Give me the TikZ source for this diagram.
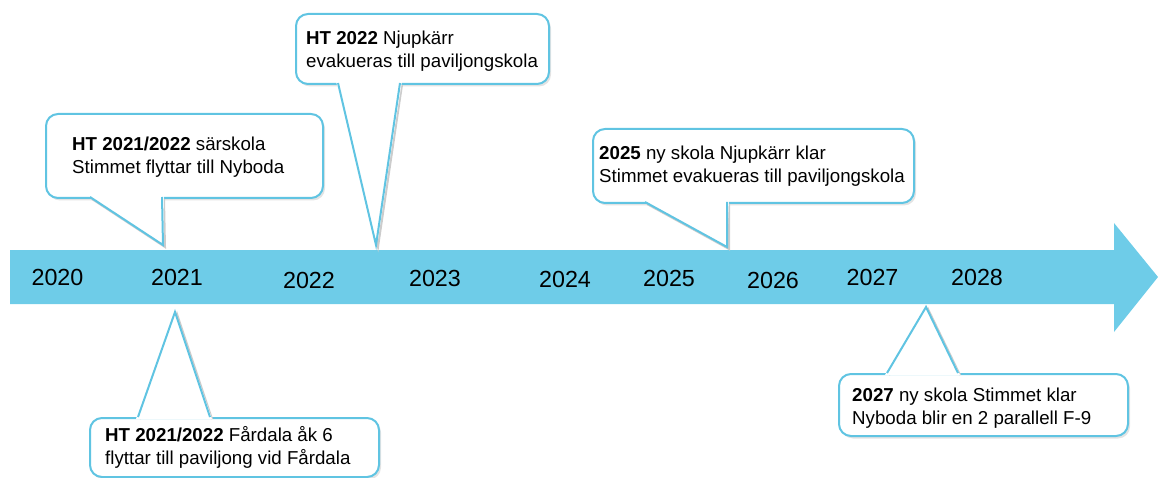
\documentclass[tikz,border=0pt]{standalone}
\usepackage{fontspec}
\setmainfont{Liberation Sans}
\usetikzlibrary{shadows}
\definecolor{band}{RGB}{110,204,232}
\definecolor{edge}{RGB}{96,196,226}

\begin{document}
\begin{tikzpicture} [
    x=1pt, y=-1pt,
    yearlbl/.style={font=\fontsize{23.3}{26}\selectfont, inner sep=0pt},
    bubble/.style={
        draw=edge, line width=2pt, fill=white,
        rounded corners=12pt, anchor=north west,
        drop shadow={shadow xshift=2pt, shadow yshift=-2.5pt, opacity=0.22}
    },
    bubbletxt/.style={
        font=\fontsize{18.7}{22.5}\selectfont,
        align=left, inner sep=0pt, anchor=west
    },
    ptr/.style={draw=edge, line width=2pt},
    ptrshadow/.style={draw=black!20, line width=2pt,
        transform canvas={shift={(2pt,-2pt)}}}
]

\useasboundingbox (0,0) rectangle (1158,478);

% timeline
\fill [band] (10,250) -- (1114,250) -- (1114,223) -- (1158,277)
    -- (1114,332) -- (1114,304) -- (10,304) -- cycle;

\foreach \yr/\xx/\yy in {2020/57.5/277, 2021/177/277, 2022/309/280,
    2023/435/278, 2024/565/279, 2025/669/278, 2026/773/280,
    2027/872.5/277, 2028/977/277}
    \node [yearlbl] (y\yr) at (\xx,\yy) {\yr};

% HT 2021/2022 saerskola
\node [bubble, minimum width=277pt, minimum height=84pt] (b1) at (45,113) {};
\node [bubbletxt] (t1) at ([xshift=27pt,yshift=-1pt]b1.west)
    {\textbf{HT 2021/2022} särskola\\Stimmet flyttar till Nyboda};
\coordinate (p1) at (163,245);
\draw [ptrshadow] (90,197) -- (p1) -- (162,197);
\fill [white] (88,195) -- (p1) -- (164,195) -- cycle;
\draw [ptr] (90,197) -- (p1) -- (162,197);

% HT 2022 Njupkaerr
\node [bubble, minimum width=253pt, minimum height=70pt] (b2) at (295,13) {};
\node [bubbletxt] (t2) at ([xshift=11pt,yshift=-2pt]b2.west)
    {\textbf{HT 2022} Njupkärr\\evakueras till paviljongskola};
\coordinate (p2) at (376,245);
\draw [ptrshadow] (338,83) -- (p2) -- (400,83);
\fill [white] (336,81) -- (p2) -- (402,81) -- cycle;
\draw [ptr] (338,83) -- (p2) -- (400,83);

% 2025
\node [bubble, minimum width=321pt, minimum height=74pt] (b3) at (592,128) {};
\node [bubbletxt] (t3) at ([xshift=7pt]b3.west)
    {\textbf{2025} ny skola Njupkärr klar\\Stimmet evakueras till paviljongskola};
\coordinate (p3) at (727,247);
\draw [ptrshadow] (645,202) -- (p3) -- (727,202);
\fill [white] (643,200) -- (p3) -- (729,200) -- cycle;
\draw [ptr] (645,202) -- (p3) -- (727,202);

% HT 2021/2022 Faardala
\node [bubble, minimum width=289pt, minimum height=59pt] (b4) at (89,417) {};
\node [bubbletxt] (t4) at ([xshift=16pt]b4.west)
    {\textbf{HT 2021/2022} Fårdala åk 6\\flyttar till paviljong vid Fårdala};
\coordinate (p4) at (175,312);
\draw [ptrshadow] (138,417) -- (p4) -- (210,417);
\fill [white] (136,419) -- (p4) -- (212,419) -- cycle;
\draw [ptr] (138,417) -- (p4) -- (210,417);

% 2027
\node [bubble, minimum width=289pt, minimum height=62pt] (b5) at (838,373) {};
\node [bubbletxt] (t5) at ([xshift=14pt,yshift=-3pt]b5.west)
    {\textbf{2027} ny skola Stimmet klar\\Nyboda blir en 2 parallell F-9};
\coordinate (p5) at (926,307);
\draw [ptrshadow] (887,373) -- (p5) -- (958,373);
\fill [white] (885,375) -- (p5) -- (960,375) -- cycle;
\draw [ptr] (887,373) -- (p5) -- (958,373);

\end{tikzpicture}
\end{document}
